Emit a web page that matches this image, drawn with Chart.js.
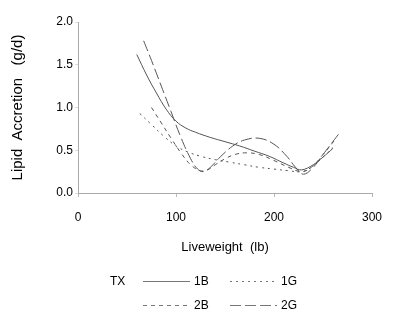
<!DOCTYPE html>
<html>
<head>
<meta charset="utf-8">
<script src="https://cdn.jsdelivr.net/npm/chart.js@4.4.0/dist/chart.umd.min.js"></script>
<style>
  body { margin: 0; background: #fff; }
  #wrap { width: 411px; height: 330px; }
</style>
</head>
<body>
<div id="wrap"><canvas id="myChart" width="411" height="330"></canvas></div>
<script>
const FONT = "'Liberation Sans Narrow', 'Liberation Sans', Arial, sans-serif";

// (liveweight lb -> lipid accretion g/d)
const x1B = [60, 70, 80, 90, 100, 110, 120, 135, 150, 165, 180, 195, 210, 220, 228, 240, 250, 260];
const y1B = [1.62, 1.38, 1.17, 0.98, 0.84, 0.76, 0.71, 0.65, 0.6, 0.55, 0.49, 0.43, 0.35, 0.3, 0.27, 0.33, 0.42, 0.52];

const x1G = [63, 75, 88, 100, 112, 125, 140, 155, 170, 185, 200, 215, 228, 238, 250, 262];
const y1G = [0.93, 0.8, 0.66, 0.55, 0.48, 0.43, 0.39, 0.36, 0.33, 0.3, 0.28, 0.26, 0.25, 0.3, 0.42, 0.55];

const x2B = [75, 85, 95, 105, 115, 125, 132, 140, 150, 160, 172, 185, 200, 215, 228, 238, 250, 262];
const y2B = [1.0, 0.82, 0.64, 0.47, 0.33, 0.26, 0.27, 0.33, 0.4, 0.45, 0.47, 0.45, 0.38, 0.3, 0.25, 0.3, 0.45, 0.62];

const x2G = [67, 75, 85, 95, 105, 115, 122, 128, 135, 145, 158, 170, 185, 200, 213, 222, 230, 240, 250, 260, 268];
const y2G = [1.78, 1.55, 1.25, 0.95, 0.65, 0.4, 0.28, 0.25, 0.3, 0.42, 0.55, 0.62, 0.64, 0.57, 0.43, 0.3, 0.22, 0.3, 0.45, 0.6, 0.72];

const xTicks = [0, 100, 200, 300];
const yTicks = [0, 0.5, 1.0, 1.5, 2.0];

const series = [
  { label: '1B', xs: x1B, ys: y1B, dash: [], color: '#555' },
  { label: '1G', xs: x1G, ys: y1G, dash: [2, 4], color: '#555' },
  { label: '2B', xs: x2B, ys: y2B, dash: [4, 4], color: '#555' },
  { label: '2G', xs: x2G, ys: y2G, dash: [11, 4], color: '#555' },
];

const toPoints = (xs, ys) => xs.map((x, i) => ({ x: x, y: ys[i] }));

// legend laid out like the SAS one: TX then 2 columns
const legendBox = {
  id: 'legendBox',
  afterDraw(chart) {
    const ctx = chart.ctx;
    ctx.save();
    ctx.font = '12px ' + FONT;
    ctx.fillStyle = '#000';
    ctx.textBaseline = 'middle';
    ctx.fillText('TX', 110, 282);
    const spots = [[143, 281], [230, 281], [143, 305], [230, 305]];
    const order = ['1B', '1G', '2B', '2G'];
    order.forEach((name, i) => {
      const s = series.find(d => d.label === name);
      const [lx, ly] = spots[i];
      ctx.strokeStyle = '#777';
      ctx.lineWidth = 1;
      ctx.setLineDash(s.dash);
      ctx.beginPath();
      ctx.moveTo(lx, ly + 0.5);
      ctx.lineTo(lx + 47, ly + 0.5);
      ctx.stroke();
      ctx.setLineDash([]);
      ctx.fillText(name, lx + 51, ly + 1);
    });
    ctx.restore();
  },
};

const chart1 = document.getElementById('myChart').getContext('2d');
const myChart = new Chart(chart1, {
  type: 'line',
  data: {
    datasets: series.map(s => ({
      label: s.label,
      data: toPoints(s.xs, s.ys),
      borderColor: s.color,
      borderWidth: 1,
      borderDash: s.dash,
      pointRadius: 0,
      tension: 0.4,
      fill: false,
    })),
  },
  options: {
    responsive: false,
    animation: false,
    layout: {
      padding: { left: 0, top: 22, right: 39, bottom: 70 },
    },
    scales: {
      x: {
        type: 'linear',
        min: 0,
        max: 300,
        afterFit: (scale) => { scale.height = 67; },
        afterBuildTicks: (scale) => { scale.ticks = xTicks.map(v => ({ value: v })); },
        grid: { display: true, drawOnChartArea: false, drawTicks: true, tickLength: 4, color: '#bbb' },
        border: { display: true, color: '#aaa', dash: [1, 2] },
        ticks: {
          padding: 13,
          color: '#000',
          font: { family: FONT, size: 12 },
        },
        title: {
          display: true,
          text: 'Liveweight  (lb)',
          color: '#000',
          font: { family: FONT, size: 13 },
          padding: { top: 5, bottom: 5 },
        },
      },
      y: {
        type: 'linear',
        min: 0,
        max: 2.0,
        afterFit: (scale) => { scale.width = 78; },
        afterBuildTicks: (scale) => { scale.ticks = yTicks.map(v => ({ value: v })); },
        grid: { display: true, drawOnChartArea: false, drawTicks: true, tickLength: 3, color: '#ddd' },
        border: { display: true, color: '#aaa', dash: [1, 2] },
        ticks: {
          padding: 2,
          color: '#000',
          font: { family: FONT, size: 12 },
          callback: (v) => Number(v).toFixed(1),
        },
        title: {
          display: true,
          text: 'Lipid  Accretion   (g/d)',
          color: '#000',
          font: { family: "'Liberation Sans', Arial, sans-serif", size: 15 },
          padding: { top: 9, bottom: 0 },
        },
      },
    },
    plugins: {
      legend: { display: false },
      tooltip: { enabled: false },
    },
  },
  plugins: [legendBox],
});
</script>
</body>
</html>
